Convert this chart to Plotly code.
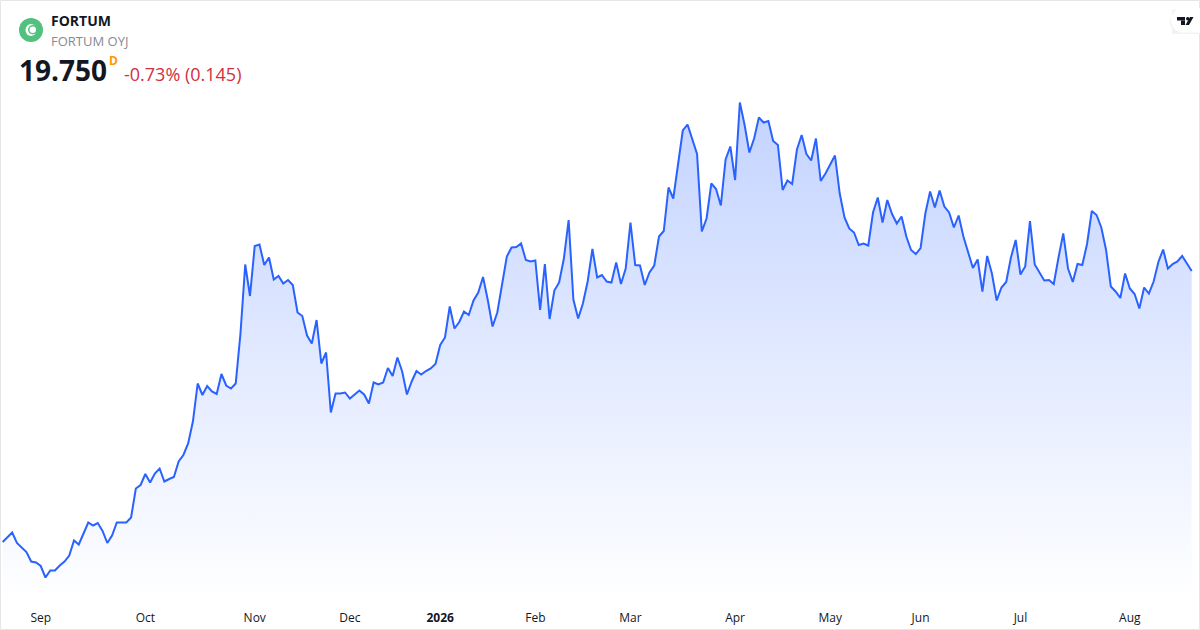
"""Fortum daily close area chart, TradingView mini-chart look."""

import plotly.graph_objects as go

# daily closes
closes = [
    14.33, 14.43, 14.52, 14.31, 14.22, 14.13, 13.94, 13.92, 13.85, 13.62,
    13.76, 13.76, 13.86, 13.94, 14.06, 14.36, 14.28, 14.50, 14.72, 14.66,
    14.71, 14.55, 14.31, 14.46, 14.72, 14.72, 14.72, 14.82, 15.40, 15.47,
    15.69, 15.52, 15.70, 15.80, 15.54, 15.59, 15.63, 15.94, 16.07, 16.30,
    16.74, 17.50, 17.27, 17.45, 17.34, 17.29, 17.69, 17.46, 17.40, 17.50,
    18.50, 19.88, 19.25, 20.25, 20.28, 19.87, 20.02, 19.58, 19.65, 19.50,
    19.57, 19.47, 18.92, 18.85, 18.46, 18.30, 18.77, 17.90, 18.12, 16.92,
    17.30, 17.30, 17.32, 17.20, 17.29, 17.36, 17.28, 17.10, 17.52, 17.48,
    17.52, 17.81, 17.65, 18.02, 17.74, 17.28, 17.54, 17.75, 17.68, 17.75,
    17.80, 17.89, 18.27, 18.42, 19.04, 18.60, 18.73, 18.94, 18.87, 19.16,
    19.32, 19.63, 19.17, 18.64, 18.92, 19.47, 20.04, 20.22, 20.23, 20.30,
    19.97, 19.94, 19.96, 18.97, 19.89, 18.79, 19.36, 19.52, 20.00, 20.77,
    19.18, 18.80, 19.10, 19.54, 20.19, 19.62, 19.67, 19.54, 19.52, 19.92,
    19.49, 19.80, 20.72, 19.87, 19.86, 19.47, 19.72, 19.86, 20.44, 20.55,
    21.42, 21.20, 21.87, 22.56, 22.68, 22.40, 22.09, 20.54, 20.80, 21.50,
    21.39, 21.06, 21.98, 22.24, 21.57, 23.12, 22.67, 22.12, 22.40, 22.82,
    22.72, 22.75, 22.35, 22.27, 21.37, 21.56, 21.49, 22.18, 22.47, 22.09,
    21.96, 22.40, 21.55, 21.70, 21.89, 22.06, 21.30, 20.82, 20.60, 20.52,
    20.27, 20.30, 20.26, 20.92, 21.22, 20.72, 21.17, 20.89, 20.70, 20.84,
    20.44, 20.17, 20.09, 20.21, 20.90, 21.34, 21.02, 21.36, 21.04, 20.92,
    20.62, 20.86, 20.44, 20.10, 19.81, 19.98, 19.34, 20.05, 19.70, 19.16,
    19.42, 19.53, 20.02, 20.37, 19.68, 19.84, 20.75, 19.88, 19.72, 19.56,
    19.57, 19.49, 20.02, 20.50, 19.80, 19.53, 19.89, 19.87, 20.29, 20.95,
    20.87, 20.62, 20.17, 19.44, 19.34, 19.21, 19.70, 19.40, 19.29, 19.00,
    19.42, 19.30, 19.54, 19.93, 20.18, 19.80, 19.89, 19.94, 20.05, 19.90,
    19.75,
]
sessions = list(range(len(closes)))

# session index where each month starts
tick_sessions = [8, 30, 53, 73, 92, 112, 132, 154, 174, 193, 214, 237]
tick_labels = ["Sep", "Oct", "Nov", "Dec", "<b>2026</b>", "Feb", "Mar", "Apr", "May", "Jun", "Jul", "Aug"]

W, H = 1200, 630
FONT = "Open Sans"
LINE = "#2962FF"


def px(x):
    return x / W


def py(y):
    return 1 - y / H


def label(x, y, text, size, color, anchor="left"):
    return dict(
        x=px(x), y=py(y), xref="paper", yref="paper", text=text, showarrow=False,
        xanchor=anchor, yanchor="middle", font=dict(family=FONT, size=size, color=color),
        xshift=-2,
    )


def box(x0, y0, x1, y1, **kw):
    return dict(type="rect", xref="paper", yref="paper", x0=px(x0), x1=px(x1), y0=py(y0), y1=py(y1), **kw)


def circle(x0, y0, x1, y1, **kw):
    return dict(type="circle", xref="paper", yref="paper", x0=px(x0), x1=px(x1), y0=py(y0), y1=py(y1), **kw)


def poly(points, color):
    d = "M" + " L".join(f"{px(x):.5f},{py(y):.5f}" for x, y in points) + " Z"
    return dict(type="path", xref="paper", yref="paper", path=d, fillcolor=color, line_width=0)


fig = go.Figure(
    go.Scatter(
        x=sessions,
        y=closes,
        mode="lines",
        line=dict(color=LINE, width=2),
        fill="tozeroy",
        fillgradient=dict(
            type="vertical",
            start=23.12,
            stop=13.17,
            colorscale=[[0, "rgba(41,98,255,0.28)"], [1, "rgba(41,98,255,0)"]],
        ),
        hoverinfo="skip",
    )
)

shapes = [
    # page frame
    box(0.5, 0.5, 1199.5, 629.5, line=dict(color="#e6e6e6", width=1)),
    # logo
    circle(19, 18, 43, 42, fillcolor="#52c17f", line_width=0),
    circle(25.5, 24, 36.5, 36, fillcolor="#ffffff", line_width=0),
    circle(28, 25, 37.5, 34.5, fillcolor="#52c17f", line_width=0),
    circle(29.5, 26.5, 36, 33, fillcolor="#ffffff", line_width=0),
    # TradingView badge
    box(1172, 9.5, 1200, 34, fillcolor="#f3f3f3", line_width=0),
    circle(1170, 9, 1194, 34, fillcolor="#f3f3f3", line_width=0),
    box(1183, 8, 1200, 32.5, fillcolor="#ffffff", line_width=0),
    circle(1171, 8, 1195, 32.5, fillcolor="#ffffff", line_width=0),
    box(1177, 17, 1185, 20.5, fillcolor="#131722", line_width=0),
    box(1181, 20.5, 1185, 25, fillcolor="#131722", line_width=0),
    circle(1186, 17, 1189.5, 20.5, fillcolor="#131722", line_width=0),
    poly([(1190, 17), (1193.5, 17), (1189, 25), (1185.5, 25)], "#131722"),
]

annotations = [
    label(51, 21, "<b>FORTUM</b>", 14, "#131722"),
    label(51, 41, "FORTUM OYJ", 13, "#868993"),
    label(19, 70, "<b>19.750</b>", 28, "#131722"),
    label(109, 60, "<b>D</b>", 12, "#ff9800"),
    label(124, 74, "-0.73% (0.145)", 18, "#d32f3f"),
]

fig.update_layout(
    width=W,
    height=H,
    margin=dict(l=0, r=0, t=0, b=0),
    paper_bgcolor="#ffffff",
    plot_bgcolor="#ffffff",
    showlegend=False,
    shapes=shapes,
    annotations=annotations,
    xaxis=dict(
        range=[-0.561, 251.75],
        tickmode="array",
        tickvals=tick_sessions,
        ticktext=tick_labels,
        showgrid=False,
        zeroline=False,
        showline=False,
        ticks="outside",
        ticklen=7,
        tickcolor="rgba(0,0,0,0)",
        tickfont=dict(family=FONT, size=12, color="#131722"),
    ),
    yaxis=dict(
        domain=[30 / H, 1],
        range=[13.17, 25.17],
        visible=False,
    ),
)

# the page's default body margin would shift the whole figure
fig.write_html(
    "out.html",
    config={"displayModeBar": False},
    post_script="document.body.style.margin = '0';",
)
